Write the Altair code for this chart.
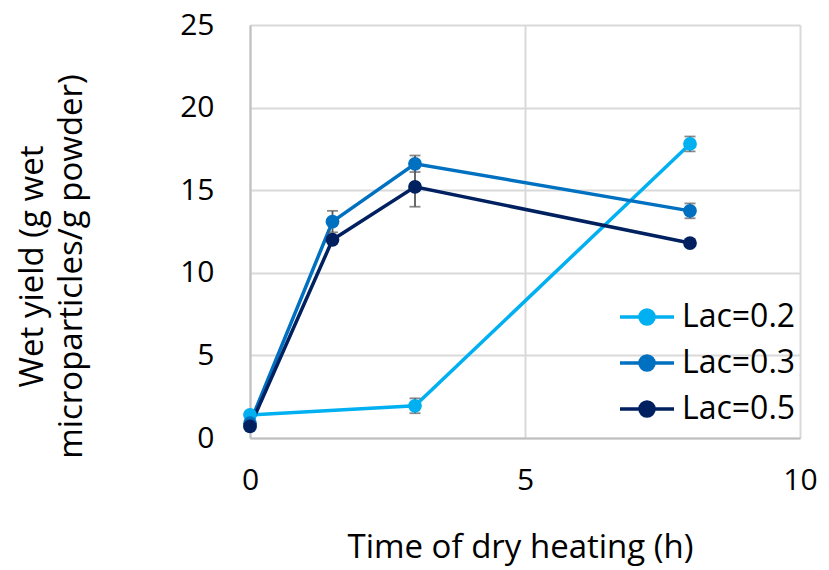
import altair as alt
import pandas as pd

series = ["Lac=0.2", "Lac=0.3", "Lac=0.5"]
colors = ["#00B0F0", "#0070C0", "#002060"]

t02 = [0, 3, 8]
y02 = [1.4, 1.95, 17.8]
e02 = [0.0, 0.45, 0.45]

t03 = [0, 1.5, 3, 8]
y03 = [0.9, 13.1, 16.6, 13.75]
e03 = [0.0, 0.65, 0.5, 0.45]

t05 = [0, 1.5, 3, 8]
y05 = [0.7, 12.0, 15.2, 11.8]
e05 = [0.0, 0.0, 1.2, 0.0]

rows = []
for name, ts, ys, es in zip(series, [t02, t03, t05], [y02, y03, y05], [e02, e03, e05]):
    for i, (t, y, e) in enumerate(zip(ts, ys, es)):
        rows.append({"series": name, "t": t, "y": y, "lo": y - e, "hi": y + e, "err": e,
                     "ord": series.index(name)})
df = pd.DataFrame(rows)

FONT = "Open Sans"

xs = alt.Scale(domain=[0, 10], nice=False)
ys = alt.Scale(domain=[0, 25], nice=False)
cs = alt.Scale(domain=series, range=colors)

sym = "M-1,0L1,0M0.26,0A0.26,0.26,0,1,1,-0.26,0A0.26,0.26,0,1,1,0.26,0Z"

base = alt.Chart(df)

lines = base.mark_line(strokeWidth=3.5).encode(
    x=alt.X("t:Q", scale=xs,
            axis=alt.Axis(title="Time of dry heating (h)", values=[0, 5, 10], grid=True,
                          ticks=False, labelPadding=27, labelFlush=False,
                          labelFontSize=30, titleFontSize=33, titleFontWeight="normal",
                          labelColor="black", titleColor="black", titleX=270, titleY=119,
                          titleBaseline="alphabetic", titleAlign="center",
                          domainColor="#bfbfbf", domainWidth=2, gridColor="#d9d9d9", gridWidth=2)),
    y=alt.Y("y:Q", scale=ys,
            axis=alt.Axis(title=["Wet yield (g wet", "microparticles/g powder)"],
                          values=[0, 5, 10, 15, 20, 25], grid=True, ticks=False,
                          labelPadding=36, labelFontSize=30, titleFontSize=33,
                          titleFontWeight="normal", labelColor="black", titleColor="black",
                          titleAngle=-90, titleX=-208, titleY=241, titleBaseline="alphabetic",
                          titleAlign="center", titleLineHeight=39,
                          domainColor="#bfbfbf", domainWidth=2, gridColor="#d9d9d9", gridWidth=2)),
    color=alt.Color("series:N", scale=cs,
                    legend=alt.Legend(title=None, orient="none", legendX=368, legendY=263,
                                      symbolType=sym, symbolSize=2916, symbolStrokeWidth=3.5,
                                      labelFontSize=32, labelColor="black", labelOffset=6,
                                      rowPadding=1, padding=0, labelFont=FONT)),
    detail="series:N",
    order="ord:Q",
)

edf = df[df["err"] > 0]
err_rule = alt.Chart(edf).mark_rule(color="#595959", strokeWidth=1.8).encode(
    x=alt.X("t:Q", scale=xs),
    y=alt.Y("lo:Q", scale=ys),
    y2="hi:Q",
)
cap_lo = alt.Chart(edf).mark_tick(color="#595959", orient="horizontal", size=11, thickness=1.8).encode(
    x=alt.X("t:Q", scale=xs),
    y=alt.Y("lo:Q", scale=ys),
)
cap_hi = alt.Chart(edf).mark_tick(color="#595959", orient="horizontal", size=11, thickness=1.8).encode(
    x=alt.X("t:Q", scale=xs),
    y=alt.Y("hi:Q", scale=ys),
)

points = base.mark_circle(size=190, opacity=1).encode(
    x=alt.X("t:Q", scale=xs),
    y=alt.Y("y:Q", scale=ys),
    color=alt.Color("series:N", scale=cs, legend=None),
    order="ord:Q",
)

chart = alt.layer(lines, err_rule, cap_lo, cap_hi, points).properties(
    width=550, height=413,
    autosize=alt.AutoSizeParams(type="none"),
    padding={"left": 242, "top": 17, "right": 21, "bottom": 130},
).configure_view(stroke=None).configure(font=FONT).configure_axis(labelFont=FONT, titleFont=FONT)

chart.save("out.html", embed_options={"renderer": "svg", "actions": False})
